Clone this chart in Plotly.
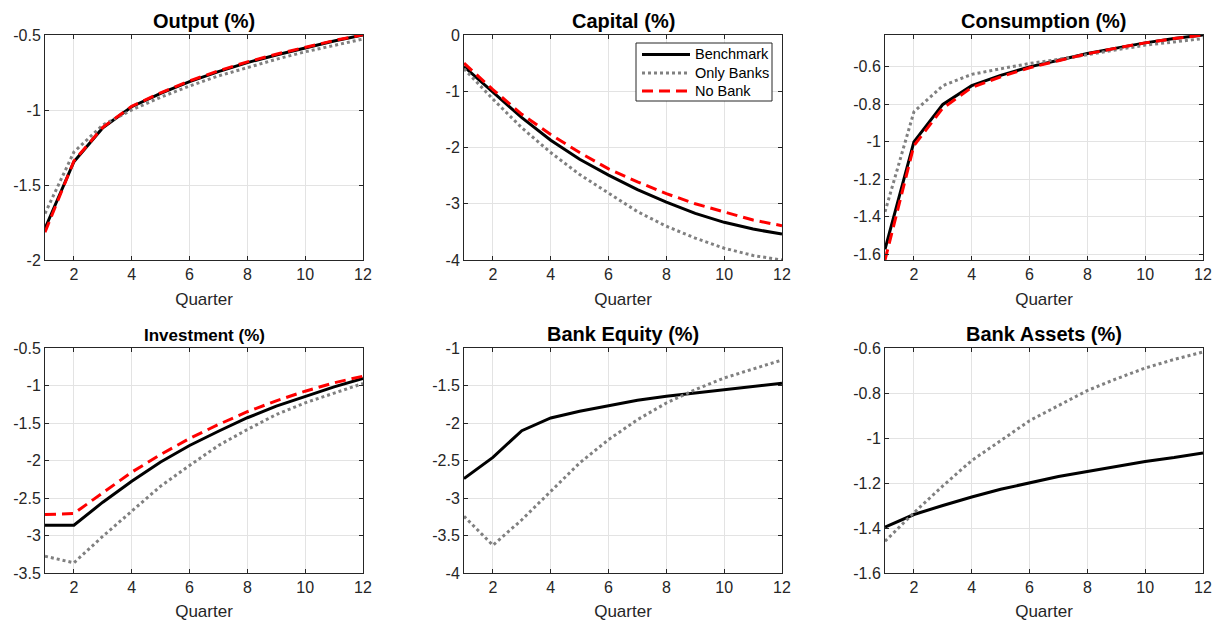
import plotly.graph_objects as go

# Impulse responses, quarters 1-12
quarters = list(range(1, 13))

output_benchmark = [-1.79, -1.345, -1.118, -0.978, -0.889, -0.811, -0.744, -0.684, -0.633, -0.584, -0.540, -0.500]
output_only_banks = [-1.69, -1.28, -1.10, -1.00, -0.915, -0.840, -0.773, -0.716, -0.662, -0.612, -0.567, -0.527]
output_no_bank = [-1.815, -1.34, -1.115, -0.975, -0.885, -0.806, -0.739, -0.679, -0.628, -0.580, -0.537, -0.498]

capital_benchmark = [-0.56, -1.02, -1.47, -1.87, -2.21, -2.49, -2.75, -2.97, -3.17, -3.33, -3.45, -3.54]
capital_only_banks = [-0.60, -1.14, -1.65, -2.09, -2.48, -2.81, -3.14, -3.40, -3.61, -3.79, -3.92, -4.00]
capital_no_bank = [-0.50, -0.97, -1.41, -1.77, -2.09, -2.38, -2.61, -2.82, -3.00, -3.15, -3.29, -3.39]

consumption_benchmark = [-1.573, -1.00, -0.80, -0.70, -0.645, -0.600, -0.565, -0.529, -0.500, -0.472, -0.449, -0.430]
consumption_only_banks = [-1.373, -0.84, -0.70, -0.64, -0.610, -0.582, -0.560, -0.535, -0.508, -0.484, -0.467, -0.449]
consumption_no_bank = [-1.630, -1.02, -0.82, -0.71, -0.653, -0.605, -0.567, -0.530, -0.500, -0.472, -0.449, -0.430]

investment_benchmark = [-2.862, -2.862, -2.556, -2.276, -2.02, -1.80, -1.61, -1.43, -1.276, -1.142, -1.018, -0.907]
investment_only_banks = [-3.276, -3.364, -3.01, -2.676, -2.342, -2.067, -1.80, -1.587, -1.387, -1.231, -1.098, -0.973]
investment_no_bank = [-2.72, -2.707, -2.43, -2.156, -1.92, -1.707, -1.52, -1.35, -1.204, -1.076, -0.964, -0.876]

equity_benchmark = [-2.742, -2.458, -2.102, -1.933, -1.844, -1.769, -1.698, -1.644, -1.600, -1.556, -1.511, -1.471]
equity_only_banks = [-3.244, -3.631, -3.29, -2.911, -2.533, -2.222, -1.956, -1.733, -1.556, -1.40, -1.276, -1.16]

assets_benchmark = [-1.396, -1.34, -1.30, -1.262, -1.228, -1.198, -1.171, -1.149, -1.127, -1.104, -1.087, -1.067]
assets_only_banks = [-1.459, -1.332, -1.213, -1.10, -1.012, -0.923, -0.856, -0.789, -0.737, -0.689, -0.651, -0.618]

panel_titles = ["Output (%)", "Capital (%)", "Consumption (%)",
                "Investment (%)", "Bank Equity (%)", "Bank Assets (%)"]
series_names = ["Benchmark", "Only Banks", "No Bank"]

x_tick_vals = [2, 4, 6, 8, 10, 12]
x_tick_text = ["2", "4", "6", "8", "10", "12"]

y_ticks = [
    ([-2, -1.5, -1, -0.5], ["-2", "-1.5", "-1", "-0.5"]),
    ([-4, -3, -2, -1, 0], ["-4", "-3", "-2", "-1", "0"]),
    ([-1.6, -1.4, -1.2, -1, -0.8, -0.6], ["-1.6", "-1.4", "-1.2", "-1", "-0.8", "-0.6"]),
    ([-3.5, -3, -2.5, -2, -1.5, -1, -0.5], ["-3.5", "-3", "-2.5", "-2", "-1.5", "-1", "-0.5"]),
    ([-4, -3.5, -3, -2.5, -2, -1.5, -1], ["-4", "-3.5", "-3", "-2.5", "-2", "-1.5", "-1"]),
    ([-1.6, -1.4, -1.2, -1, -0.8, -0.6], ["-1.6", "-1.4", "-1.2", "-1", "-0.8", "-0.6"]),
]
y_ranges = [[-2, -0.5], [-4, 0], [-1.63, -0.43], [-3.5, -0.5], [-4, -1], [-1.6, -0.6]]

panels = [
    [output_benchmark, output_only_banks, output_no_bank],
    [capital_benchmark, capital_only_banks, capital_no_bank],
    [consumption_benchmark, consumption_only_banks, consumption_no_bank],
    [investment_benchmark, investment_only_banks, investment_no_bank],
    [equity_benchmark, equity_only_banks, None],
    [assets_benchmark, assets_only_banks, None],
]

W, H = 1213, 621
# plot-area pixel boxes (left, right, top, bottom)
boxes = [
    (45, 363, 35, 260), (464, 782, 35, 260), (885, 1203, 35, 260),
    (45, 363, 348, 573), (464, 782, 348, 573), (885, 1203, 348, 573),
]

styles = [
    dict(color="black", width=3, dash="solid"),
    dict(color="#808080", width=3, dash="3px,3px"),
    dict(color="#ff0000", width=3, dash="11px,6px"),
]

FONT = "Liberation Sans, Arial, Helvetica, sans-serif"
AXIS_COLOR = "#262626"
GRID_COLOR = "#e3e3e3"

fig = go.Figure()
layout = dict(
    template="none",
    width=W, height=H,
    margin=dict(l=0, r=0, t=0, b=0, autoexpand=False),
    paper_bgcolor="white", plot_bgcolor="white",
    font=dict(family=FONT, color=AXIS_COLOR),
    showlegend=False,
    annotations=[], shapes=[],
)

for i, series in enumerate(panels):
    n = i + 1
    xa = "x" if n == 1 else f"x{n}"
    ya = "y" if n == 1 else f"y{n}"
    for j, vals in enumerate(series):
        if vals is None:
            continue
        fig.add_trace(go.Scatter(
            x=quarters, y=vals, mode="lines", name=series_names[j],
            line=styles[j], xaxis=xa, yaxis=ya, cliponaxis=True,
        ))
    l, r, t, b = boxes[i]
    xdom = [l / W, r / W]
    ydom = [1 - b / H, 1 - t / H]
    common = dict(
        showline=True, linecolor=AXIS_COLOR, linewidth=1, mirror="ticks",
        ticks="inside", ticklen=4, tickcolor=AXIS_COLOR, tickwidth=1,
        showgrid=True, gridcolor=GRID_COLOR, gridwidth=1,
        zeroline=False, tickfont=dict(size=16, color=AXIS_COLOR, family=FONT),
        fixedrange=True, automargin=False,
    )
    layout["xaxis" if n == 1 else f"xaxis{n}"] = dict(
        common, domain=xdom, range=[1, 12], tickmode="array",
        tickvals=x_tick_vals, ticktext=x_tick_text,
        anchor=ya,
        title=dict(text="Quarter", font=dict(size=17, color=AXIS_COLOR, family=FONT), standoff=10),
    )
    tv, tt = y_ticks[i]
    layout["yaxis" if n == 1 else f"yaxis{n}"] = dict(
        common, domain=ydom, range=y_ranges[i], tickmode="array",
        tickvals=tv, ticktext=tt, anchor=xa,
    )
    title_size = 17 if i == 3 else 20
    layout["annotations"].append(dict(
        text=f"<b>{panel_titles[i]}</b>", xref="paper", yref="paper",
        x=(l + r) / 2 / W, y=1 - (t - 1) / H, xanchor="center", yanchor="bottom",
        showarrow=False, font=dict(size=title_size, color="black", family=FONT),
    ))

# Legend box inside the Capital panel, drawn in paper coordinates
leg_l, leg_r, leg_t, leg_b = 636, 772, 43, 101
row_y = [54.5, 73, 91]
layout["shapes"].append(dict(
    type="rect", xref="paper", yref="paper",
    x0=leg_l / W, x1=leg_r / W, y0=1 - leg_b / H, y1=1 - leg_t / H,
    line=dict(color=AXIS_COLOR, width=1), fillcolor="white", layer="above",
))
for j, name in enumerate(series_names):
    yy = 1 - row_y[j] / H
    layout["shapes"].append(dict(
        type="line", xref="paper", yref="paper",
        x0=642 / W, x1=690 / W, y0=yy, y1=yy,
        line=styles[j], layer="above",
    ))
    layout["annotations"].append(dict(
        text=name, xref="paper", yref="paper", x=693 / W, y=yy,
        xanchor="left", yanchor="middle", showarrow=False,
        font=dict(size=14.5, color="black", family=FONT),
    ))

fig.update_layout(**layout)
fig.write_html("out.html")
